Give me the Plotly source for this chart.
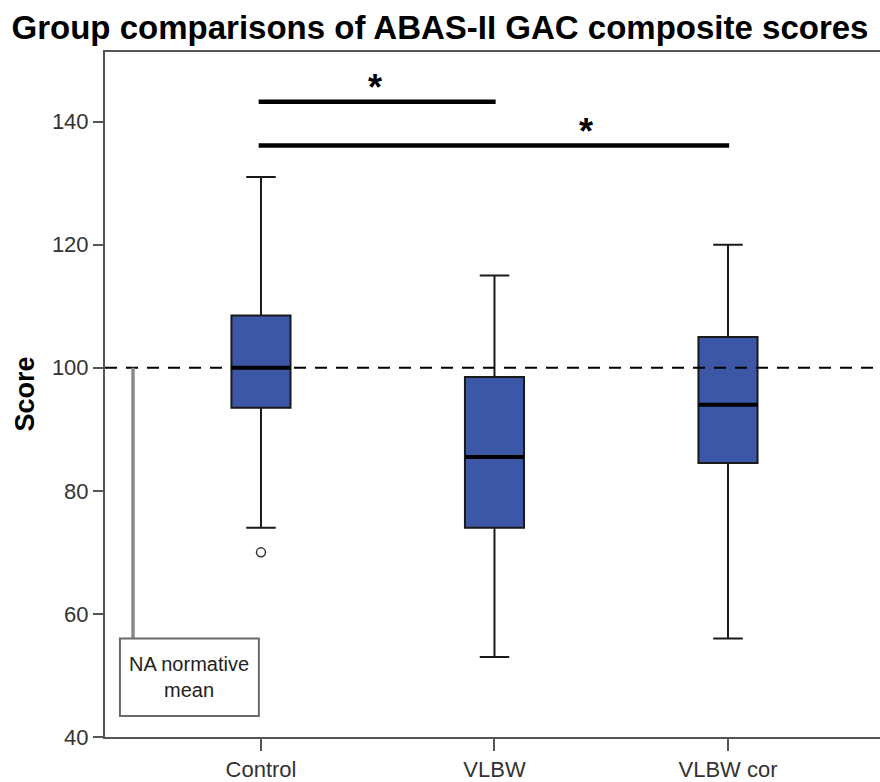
import plotly.graph_objects as go

categories = ["Control", "VLBW", "VLBW cor"]
q1 = [93.5, 74.0, 84.5]
median = [100.0, 85.5, 94.0]
q3 = [108.5, 98.5, 105.0]
lower_whisker = [74.0, 53.0, 56.0]
upper_whisker = [131.0, 115.0, 120.0]
outlier_group = [0]
outlier_value = [70.0]
normative_mean = 100
y_ticks = [40, 60, 80, 100, 120, 140]
# significance comparisons: (from group, to group, bar level, star position)
sig_from = [0, 0]
sig_to = [1, 2]
sig_level = [143.2, 136.1]
sig_star_x = [0.49, 1.39]

xpos = list(range(len(categories)))
box_w = 0.253
FONT = "Liberation Sans, Arial, sans-serif"

fig = go.Figure()
fig.add_trace(go.Box(
    x=xpos, q1=q1, median=median, q3=q3,
    lowerfence=lower_whisker, upperfence=upper_whisker,
    width=box_w, whiskerwidth=0.5,
    fillcolor="#3d57a7", line=dict(color="#1a1a1a", width=2),
    boxpoints=False, showlegend=False, hoverinfo="skip",
))

# thick median lines
mx, my = [], []
for i, m in zip(xpos, median):
    mx += [i - box_w / 2, i + box_w / 2, None]
    my += [m, m, None]
fig.add_trace(go.Scatter(x=mx, y=my, mode="lines",
                         line=dict(color="black", width=4),
                         showlegend=False, hoverinfo="skip"))

# outlier
fig.add_trace(go.Scatter(x=[xpos[g] for g in outlier_group], y=outlier_value,
                         mode="markers",
                         marker=dict(symbol="circle-open", size=9, color="#333",
                                     line=dict(width=1.5)),
                         showlegend=False, hoverinfo="skip"))

# normative mean dashed line
fig.add_shape(type="line", xref="paper", x0=0, x1=1, yref="y",
              y0=normative_mean, y1=normative_mean,
              line=dict(color="black", width=2, dash="12px,9px"))

# significance bars
for a, b, lv, sx in zip(sig_from, sig_to, sig_level, sig_star_x):
    fig.add_shape(type="line", x0=xpos[a] - 0.01, x1=xpos[b] + 0.005, y0=lv, y1=lv,
                  line=dict(color="black", width=4.5))
    fig.add_annotation(x=sx, y=lv - 1.3, text="<b>*</b>",
                       showarrow=False, yanchor="bottom",
                       font=dict(family=FONT, size=36, color="black"))

# NA normative mean label
fig.add_shape(type="line", x0=-0.548, x1=-0.548, y0=56, y1=normative_mean,
              line=dict(color="#8a8a8a", width=3.5))
fig.add_shape(type="rect", x0=-0.604, x1=-0.009, y0=43.4, y1=56,
              line=dict(color="#6a6a6a", width=2), fillcolor="white")
fig.add_annotation(x=-0.3065, y=49.7, text="NA normative<br>mean", showarrow=False,
                   font=dict(family=FONT, size=20, color="#222"))

# y axis title
fig.add_annotation(xref="paper", yref="paper", x=-0.1045, y=0.5, text="<b>Score</b>",
                   textangle=-90, showarrow=False, xanchor="center", yanchor="middle",
                   font=dict(family=FONT, size=27, color="black"))

fig.update_layout(
    width=880, height=782,
    margin=dict(l=105, r=0, t=52, b=43),
    paper_bgcolor="white", plot_bgcolor="white",
    title=dict(text="<b>Group comparisons of ABAS-II GAC composite scores</b>",
               x=0.5, xref="container", xanchor="center",
               y=1 - 27 / 782, yanchor="middle",
               font=dict(family=FONT, size=33, color="black")),
    font=dict(family=FONT),
)
fig.update_xaxes(range=[-0.668, 2.651], tickmode="array", tickvals=xpos,
                 ticktext=categories, showgrid=False, zeroline=False,
                 showline=True, linecolor="#555", linewidth=2, mirror=True,
                 ticks="outside", ticklen=12, tickwidth=2, tickcolor="#555",
                 tickfont=dict(family=FONT, size=22, color="#333"))
fig.update_yaxes(range=[40, 151.3], tickmode="array", tickvals=y_ticks,
                 showgrid=False, zeroline=False,
                 showline=True, linecolor="#555", linewidth=2,
                 ticks="outside", ticklen=10, tickwidth=2, tickcolor="#555",
                 tickfont=dict(family=FONT, size=22, color="#333"))

fig.write_html("out.html")
